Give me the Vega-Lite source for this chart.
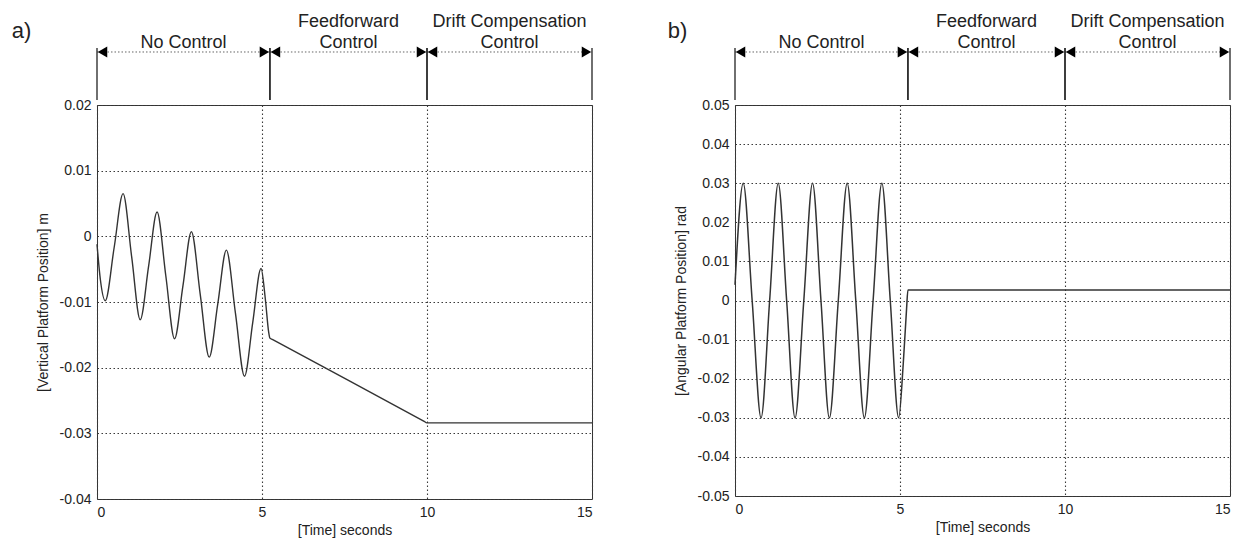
{
  "$schema": "https://vega.github.io/schema/vega-lite/v6.json",
  "background": "white",
  "padding": {"left": 11, "top": 10, "right": 2, "bottom": 2},
  "config": {
    "font": "Liberation Sans",
    "view": {"stroke": "#333", "strokeWidth": 1},
    "axis": {
      "labelFont": "Liberation Sans",
      "titleFont": "Liberation Sans",
      "labelFontSize": 14,
      "titleFontSize": 14,
      "labelColor": "#222",
      "titleColor": "#222",
      "titleFontWeight": "normal",
      "grid": true,
      "gridColor": "#3a3a3a",
      "gridDash": [1.5, 2.5],
      "gridOpacity": 1,
      "gridWidth": 1.1,
      "domain": false,
      "ticks": false,
      "labelPadding": 6
    }
  },
  "datasets": {
    "segments": [
      {"t0": 0, "t1": 5.24, "top": "", "bottom": "No Control"},
      {"t0": 5.24, "t1": 10, "top": "Feedforward", "bottom": "Control"},
      {"t0": 10, "t1": 15, "top": "Drift Compensation", "bottom": "Control"}
    ],
    "vertical": [
      {"t": 0, "v": -0.0012},
      {"t": 0.1, "v": -0.0065},
      {"t": 0.25, "v": -0.0098},
      {"t": 0.52, "v": -0.0017},
      {"t": 0.79, "v": 0.0065},
      {"t": 1.05, "v": -0.0031},
      {"t": 1.31, "v": -0.0127},
      {"t": 1.565, "v": -0.0045},
      {"t": 1.82, "v": 0.0037},
      {"t": 2.085, "v": -0.006},
      {"t": 2.35, "v": -0.0156},
      {"t": 2.605, "v": -0.0075},
      {"t": 2.86, "v": 0.0007},
      {"t": 3.13, "v": -0.0089},
      {"t": 3.4, "v": -0.0184},
      {"t": 3.66, "v": -0.0103},
      {"t": 3.92, "v": -0.0021},
      {"t": 4.195, "v": -0.0117},
      {"t": 4.47, "v": -0.0213},
      {"t": 4.72, "v": -0.0131},
      {"t": 4.97, "v": -0.0049},
      {"t": 5.1, "v": -0.0095},
      {"t": 5.2, "v": -0.0145},
      {"t": 5.24, "v": -0.0155},
      {"t": 5.34, "v": -0.01577},
      {"t": 9.9, "v": -0.02813},
      {"t": 10, "v": -0.0284},
      {"t": 10.1, "v": -0.0284},
      {"t": 15, "v": -0.0284}
    ],
    "angular": [
      {"t": 0, "v": 0.004},
      {"t": 0.25, "v": 0.03},
      {"t": 0.52, "v": 0.0},
      {"t": 0.79, "v": -0.03},
      {"t": 1.05, "v": 0.0},
      {"t": 1.31, "v": 0.03},
      {"t": 1.565, "v": 0.0},
      {"t": 1.82, "v": -0.03},
      {"t": 2.085, "v": 0.0},
      {"t": 2.35, "v": 0.03},
      {"t": 2.605, "v": 0.0},
      {"t": 2.86, "v": -0.03},
      {"t": 3.13, "v": 0.0},
      {"t": 3.4, "v": 0.03},
      {"t": 3.66, "v": 0.0},
      {"t": 3.92, "v": -0.03},
      {"t": 4.185, "v": 0.0},
      {"t": 4.45, "v": 0.03},
      {"t": 4.705, "v": 0.0},
      {"t": 4.96, "v": -0.03},
      {"t": 5.1, "v": -0.016},
      {"t": 5.2, "v": -0.002},
      {"t": 5.24, "v": 0.0027},
      {"t": 5.34, "v": 0.0027},
      {"t": 15, "v": 0.0027}
    ]
  },
  "spacing": 71,
  "hconcat": [
    {
      "spacing": 0,
      "bounds": "flush",
      "vconcat": [
        {
          "width": 495,
          "height": 95,
          "view": {"stroke": null},
          "data": {"name": "segments"},
          "transform": [{"calculate": "(datum.t0 + datum.t1) / 2", "as": "mid"}],
          "layer": [
            {
              "mark": {"type": "rule", "color": "#666", "strokeDash": [1.5, 2], "strokeWidth": 1},
              "encoding": {
                "x": {"field": "t0", "type": "quantitative", "scale": {"domain": [0, 15], "nice": false}, "axis": null},
                "x2": {"field": "t1"},
                "y": {"datum": 0.558, "type": "quantitative", "scale": {"domain": [0, 1], "nice": false},
                  "axis": {"title": "a)", "titleAngle": 0, "titleX": -76, "titleY": 20, "titleAlign": "center", "titleBaseline": "middle", "titleFontSize": 22, "labels": false, "grid": false, "domain": false, "ticks": false}}
              }
            },
            {
              "mark": {"type": "rule", "color": "#222", "strokeWidth": 1.3},
              "encoding": {
                "x": {"field": "t0", "type": "quantitative"},
                "y": {"datum": 0.053, "type": "quantitative"},
                "y2": {"datum": 0.6}
              }
            },
            {
              "mark": {"type": "rule", "color": "#222", "strokeWidth": 1.3},
              "encoding": {
                "x": {"field": "t1", "type": "quantitative"},
                "y": {"datum": 0.053, "type": "quantitative"},
                "y2": {"datum": 0.6}
              }
            },
            {
              "mark": {"type": "point", "shape": "triangle-left", "filled": true, "size": 120, "color": "#000", "opacity": 1, "xOffset": 5.5},
              "encoding": {
                "x": {"field": "t0", "type": "quantitative"},
                "y": {"datum": 0.558, "type": "quantitative"}
              }
            },
            {
              "mark": {"type": "point", "shape": "triangle-right", "filled": true, "size": 120, "color": "#000", "opacity": 1, "xOffset": -5.5},
              "encoding": {
                "x": {"field": "t1", "type": "quantitative"},
                "y": {"datum": 0.558, "type": "quantitative"}
              }
            },
            {
              "mark": {"type": "text", "fontSize": 18, "color": "#222", "baseline": "middle"},
              "encoding": {
                "x": {"field": "mid", "type": "quantitative"},
                "y": {"datum": 0.874, "type": "quantitative"},
                "text": {"field": "top"}
              }
            },
            {
              "mark": {"type": "text", "fontSize": 18, "color": "#222", "baseline": "middle"},
              "encoding": {
                "x": {"field": "mid", "type": "quantitative"},
                "y": {"datum": 0.653, "type": "quantitative"},
                "text": {"field": "bottom"}
              }
            }
          ]
        },
        {
          "width": 495,
          "height": 394,
          "data": {"name": "vertical"},
          "mark": {"type": "line", "interpolate": "monotone", "color": "#333", "strokeWidth": 1.4},
          "encoding": {
            "x": {"field": "t", "type": "quantitative", "scale": {"domain": [0, 15], "nice": false},
              "axis": {"values": [0, 5, 10, 15], "title": "[Time] seconds", "titleY": 31, "titleBaseline": "middle"}},
            "y": {"field": "v", "type": "quantitative", "scale": {"domain": [-0.04, 0.02], "nice": false},
              "axis": {"values": [-0.04, -0.03, -0.02, -0.01, 0, 0.01, 0.02], "format": "~g", "labelExpr": "replace(datum.label, '\u2212', '-')",
                "title": "[Vertical Platform Position] m", "titleX": -54, "titleY": 197, "titleAlign": "center", "titleBaseline": "middle"}}
          }
        }
      ]
    },
    {
      "spacing": 0,
      "bounds": "flush",
      "vconcat": [
        {
          "width": 495,
          "height": 95,
          "view": {"stroke": null},
          "data": {"name": "segments"},
          "transform": [{"calculate": "(datum.t0 + datum.t1) / 2", "as": "mid"}],
          "layer": [
            {
              "mark": {"type": "rule", "color": "#666", "strokeDash": [1.5, 2], "strokeWidth": 1},
              "encoding": {
                "x": {"field": "t0", "type": "quantitative", "scale": {"domain": [0, 15], "nice": false}, "axis": null},
                "x2": {"field": "t1"},
                "y": {"datum": 0.558, "type": "quantitative", "scale": {"domain": [0, 1], "nice": false},
                  "axis": {"title": "b)", "titleAngle": 0, "titleX": -58, "titleY": 20, "titleAlign": "center", "titleBaseline": "middle", "titleFontSize": 22, "labels": false, "grid": false, "domain": false, "ticks": false}}
              }
            },
            {
              "mark": {"type": "rule", "color": "#222", "strokeWidth": 1.3},
              "encoding": {
                "x": {"field": "t0", "type": "quantitative"},
                "y": {"datum": 0.053, "type": "quantitative"},
                "y2": {"datum": 0.6}
              }
            },
            {
              "mark": {"type": "rule", "color": "#222", "strokeWidth": 1.3},
              "encoding": {
                "x": {"field": "t1", "type": "quantitative"},
                "y": {"datum": 0.053, "type": "quantitative"},
                "y2": {"datum": 0.6}
              }
            },
            {
              "mark": {"type": "point", "shape": "triangle-left", "filled": true, "size": 120, "color": "#000", "opacity": 1, "xOffset": 5.5},
              "encoding": {
                "x": {"field": "t0", "type": "quantitative"},
                "y": {"datum": 0.558, "type": "quantitative"}
              }
            },
            {
              "mark": {"type": "point", "shape": "triangle-right", "filled": true, "size": 120, "color": "#000", "opacity": 1, "xOffset": -5.5},
              "encoding": {
                "x": {"field": "t1", "type": "quantitative"},
                "y": {"datum": 0.558, "type": "quantitative"}
              }
            },
            {
              "mark": {"type": "text", "fontSize": 18, "color": "#222", "baseline": "middle"},
              "encoding": {
                "x": {"field": "mid", "type": "quantitative"},
                "y": {"datum": 0.874, "type": "quantitative"},
                "text": {"field": "top"}
              }
            },
            {
              "mark": {"type": "text", "fontSize": 18, "color": "#222", "baseline": "middle"},
              "encoding": {
                "x": {"field": "mid", "type": "quantitative"},
                "y": {"datum": 0.653, "type": "quantitative"},
                "text": {"field": "bottom"}
              }
            }
          ]
        },
        {
          "width": 495,
          "height": 391,
          "data": {"name": "angular"},
          "mark": {"type": "line", "interpolate": "monotone", "color": "#333", "strokeWidth": 1.5},
          "encoding": {
            "x": {"field": "t", "type": "quantitative", "scale": {"domain": [0, 15], "nice": false},
              "axis": {"values": [0, 5, 10, 15], "title": "[Time] seconds", "titleY": 31, "titleBaseline": "middle"}},
            "y": {"field": "v", "type": "quantitative", "scale": {"domain": [-0.05, 0.05], "nice": false},
              "axis": {"values": [-0.05, -0.04, -0.03, -0.02, -0.01, 0, 0.01, 0.02, 0.03, 0.04, 0.05], "format": "~g", "labelExpr": "replace(datum.label, '\u2212', '-')",
                "title": "[Angular Platform Position] rad", "titleX": -54, "titleY": 195.5, "titleAlign": "center", "titleBaseline": "middle"}}
          }
        }
      ]
    }
  ]
}
